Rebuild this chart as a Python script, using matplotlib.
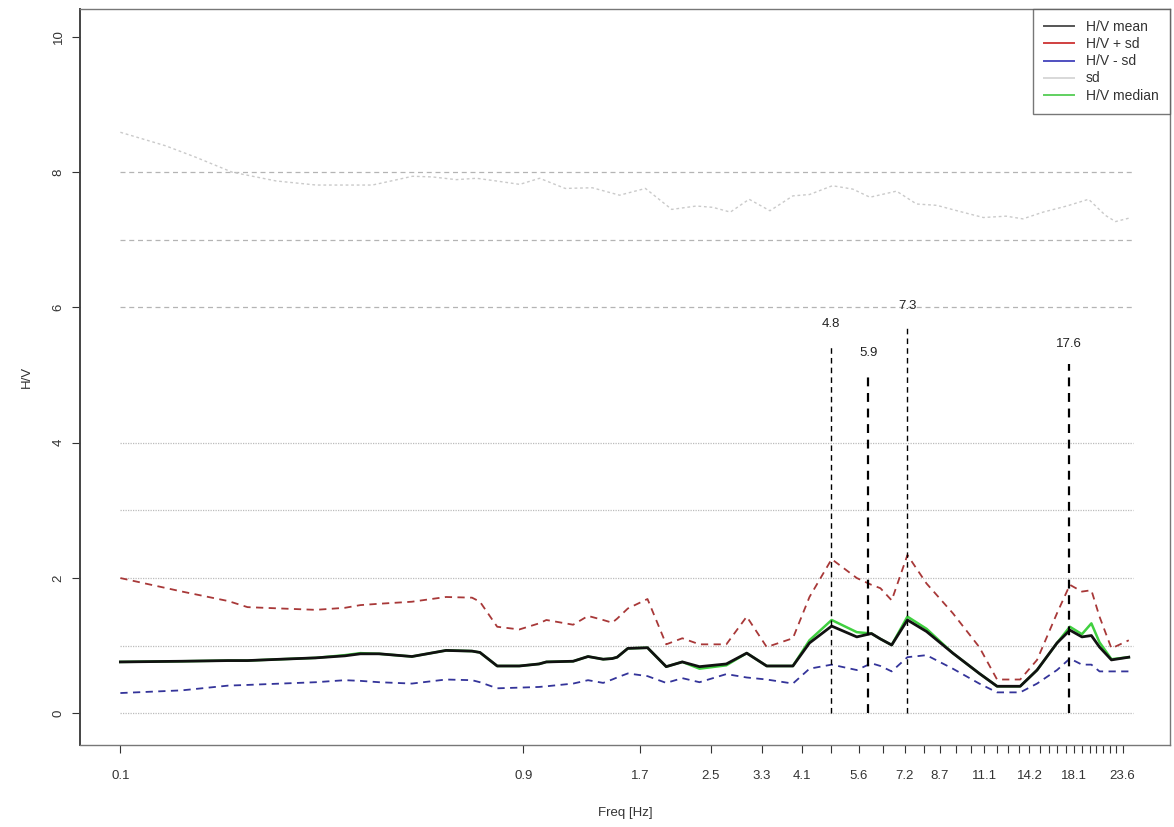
import matplotlib
matplotlib.use("Agg")
import matplotlib.pyplot as plt
from matplotlib.lines import Line2D
from matplotlib.ticker import NullLocator

plt.rcParams['font.family'] = ['Liberation Sans', 'DejaVu Sans']

# frequency grid of the H/V curves (Hz)
freq = [0.1, 0.14, 0.18, 0.2, 0.24, 0.29, 0.34, 0.37, 0.41, 0.49, 0.59, 0.68, 0.71,
        0.78, 0.88, 0.98, 1.02, 1.18, 1.28, 1.39, 1.46, 1.5, 1.59, 1.77, 1.96, 2.14,
        2.35, 2.72, 3.04, 3.39, 3.91, 4.28, 4.83, 5.54, 6.0, 6.3, 6.7, 7.3, 8.1, 9.35,
        10.8, 11.9, 13.5, 14.8, 16.5, 17.7, 18.9, 19.9, 20.8, 22.2, 24.4]

hv_mean = [0.76, 0.77, 0.78, 0.78, 0.80, 0.82, 0.85, 0.88, 0.88, 0.84, 0.93, 0.92, 0.90,
           0.70, 0.70, 0.73, 0.76, 0.77, 0.84, 0.80, 0.81, 0.83, 0.96, 0.97, 0.69, 0.76,
           0.69, 0.73, 0.89, 0.70, 0.70, 1.04, 1.29, 1.13, 1.18, 1.10, 1.01, 1.38, 1.21, 0.89,
           0.59, 0.40, 0.40, 0.64, 1.04, 1.23, 1.13, 1.15, 0.98, 0.79, 0.83]

hv_median = [0.76, 0.77, 0.78, 0.78, 0.80, 0.82, 0.86, 0.89, 0.88, 0.84, 0.93, 0.92, 0.90,
             0.70, 0.70, 0.73, 0.76, 0.77, 0.84, 0.80, 0.81, 0.83, 0.96, 0.97, 0.69, 0.76,
             0.66, 0.71, 0.89, 0.70, 0.70, 1.08, 1.38, 1.20, 1.18, 1.10, 1.01, 1.43, 1.25, 0.89,
             0.59, 0.40, 0.40, 0.64, 1.04, 1.28, 1.17, 1.33, 1.05, 0.80, 0.83]

hv_plus_sd = [2.0, 1.80, 1.66, 1.57, 1.55, 1.53, 1.56, 1.60, 1.62, 1.65, 1.72, 1.71, 1.65,
              1.28, 1.24, 1.33, 1.38, 1.31, 1.44, 1.38, 1.34, 1.40, 1.55, 1.69, 1.02, 1.11,
              1.02, 1.02, 1.43, 0.98, 1.11, 1.72, 2.28, 2.0, 1.90, 1.85, 1.67, 2.34, 1.92, 1.48,
              0.98, 0.50, 0.50, 0.79, 1.48, 1.90, 1.80, 1.82, 1.43, 0.96, 1.08]

hv_minus_sd = [0.30, 0.34, 0.41, 0.42, 0.44, 0.46, 0.49, 0.48, 0.46, 0.44, 0.50, 0.49, 0.46,
               0.37, 0.38, 0.39, 0.40, 0.44, 0.49, 0.45, 0.50, 0.53, 0.59, 0.55, 0.45, 0.52,
               0.46, 0.58, 0.53, 0.50, 0.44, 0.66, 0.72, 0.64, 0.74, 0.70, 0.62, 0.83, 0.86, 0.66,
               0.44, 0.31, 0.31, 0.44, 0.64, 0.81, 0.72, 0.72, 0.62, 0.62, 0.62]

# sd curve, read on its own grid
sd_freq = [0.1, 0.128, 0.151, 0.184, 0.234, 0.291, 0.395, 0.492, 0.548, 0.624, 0.697,
           0.777, 0.882, 0.983, 1.13, 1.31, 1.52, 1.75, 2.02, 2.31, 2.53, 2.78, 3.08,
           3.45, 3.91, 4.28, 4.85, 5.42, 5.95, 6.88, 7.67, 8.57, 9.57, 11.04, 12.5,
           13.7, 15.3, 17.4, 19.6, 21.5, 22.7, 24.4]
sd = [8.59, 8.39, 8.22, 8.0, 7.87, 7.81, 7.81, 7.94, 7.93, 7.89, 7.91, 7.87, 7.82, 7.91,
      7.76, 7.77, 7.66, 7.76, 7.45, 7.50, 7.48, 7.41, 7.60, 7.43, 7.65, 7.67, 7.80, 7.75,
      7.63, 7.72, 7.53, 7.51, 7.43, 7.33, 7.35, 7.31, 7.41, 7.50, 7.60, 7.36, 7.27, 7.32]

# picked peaks
peak_freq = [4.8, 5.9, 7.3, 17.6]
peak_top = [5.45, 5.02, 5.72, 5.16]
peak_width = [1.0, 1.6, 1.0, 1.6]

grid_dotted = [0, 1, 2, 3, 4]
grid_dashed = [6, 7, 8]

xtick_vals = [0.1, 0.9, 1.7, 2.5, 3.3, 4.1, 4.8, 5.6, 6.4, 7.2, 8.0, 8.7, 9.5, 10.3, 11.1,
              11.9, 12.6, 13.4, 14.2, 15.0, 15.8, 16.5, 17.3, 18.1, 18.9, 19.7, 20.4,
              21.2, 22.0, 22.8, 23.6]
xtick_labels = ['0.1', '0.9', '1.7', '2.5', '3.3', '4.1', '', '5.6', '', '7.2', '', '8.7',
                '', '', '11.1', '', '', '', '14.2', '', '', '', '', '18.1', '', '', '',
                '', '', '', '23.6']

legend_labels = ['H/V mean', 'H/V + sd', 'H/V - sd', 'sd', 'H/V median']
legend_colors = ['#555555', '#d04040', '#5050c0', '#d8d8d8', '#60d060']

fig = plt.figure(figsize=(11.74, 8.27), dpi=100)
ax = fig.add_axes([0.068, 0.099, 0.9286, 0.8899])

ax.set_xscale('log')

ax.hlines(grid_dotted, 0.1, 24.9, colors='#bcbcbc', linestyles=(0, (1, 1)), linewidth=0.9)
ax.hlines(grid_dashed, 0.1, 24.9, colors='#b4b4b4', linestyles=(0, (4, 3)), linewidth=0.9)

ax.plot(sd_freq, sd, color='#cacaca', linestyle=(0, (2, 2)), linewidth=1.0)
ax.plot(freq, hv_plus_sd, color='#a83838', linestyle=(0, (4, 3)), linewidth=1.3)
ax.plot(freq, hv_minus_sd, color='#34349a', linestyle=(0, (4, 3)), linewidth=1.3)
ax.plot(freq, hv_median, color='#40d040', linewidth=1.8)
ax.plot(freq, hv_mean, color='#111111', linewidth=2.0)

for f, top, w in zip(peak_freq, peak_top, peak_width):
    ax.vlines(f, 0, top, colors='black', linestyles=(0, (4, 3)), linewidth=w)
    ax.text(f, top + 0.3, str(f), ha='center', va='center', fontsize=9.5, color='#222222')

ax.set_xlim(10 ** -1.096, 10 ** 1.485)
ax.set_ylim(-0.47, 10.41)

ax.set_xticks(xtick_vals)
ax.set_xticklabels(xtick_labels)
ax.xaxis.set_minor_locator(NullLocator())
ax.set_yticks([0, 2, 4, 6, 8, 10])
ax.set_yticklabels(['0', '2', '4', '6', '8', '10'], rotation=90, va='center')

ax.tick_params(axis='x', length=6, width=0.8, pad=12, labelsize=9.5, colors='#333333')
ax.tick_params(axis='y', length=6, width=0.8, pad=5, labelsize=9.5, colors='#333333')

for side in ['top', 'right', 'bottom']:
    ax.spines[side].set_color('#777777')
    ax.spines[side].set_linewidth(1.0)
ax.spines['left'].set_color('#444444')
ax.spines['left'].set_linewidth(1.4)

ax.set_xlabel('Freq [Hz]', fontsize=9.5, color='#333333', labelpad=18)
ax.set_ylabel('H/V', fontsize=9.5, color='#333333', labelpad=14)

handles = [Line2D([0], [0], color=c, linewidth=1.4) for c in legend_colors]
leg = ax.legend(handles, legend_labels, loc='upper right', fontsize=10, frameon=True,
                fancybox=False, borderaxespad=0, handlelength=2.1, handletextpad=0.9,
                labelspacing=0.22, borderpad=0.8, labelcolor='#333333')
leg.get_frame().set_edgecolor('#555555')
leg.get_frame().set_linewidth(1.0)

fig.savefig('out.png', dpi=100)
